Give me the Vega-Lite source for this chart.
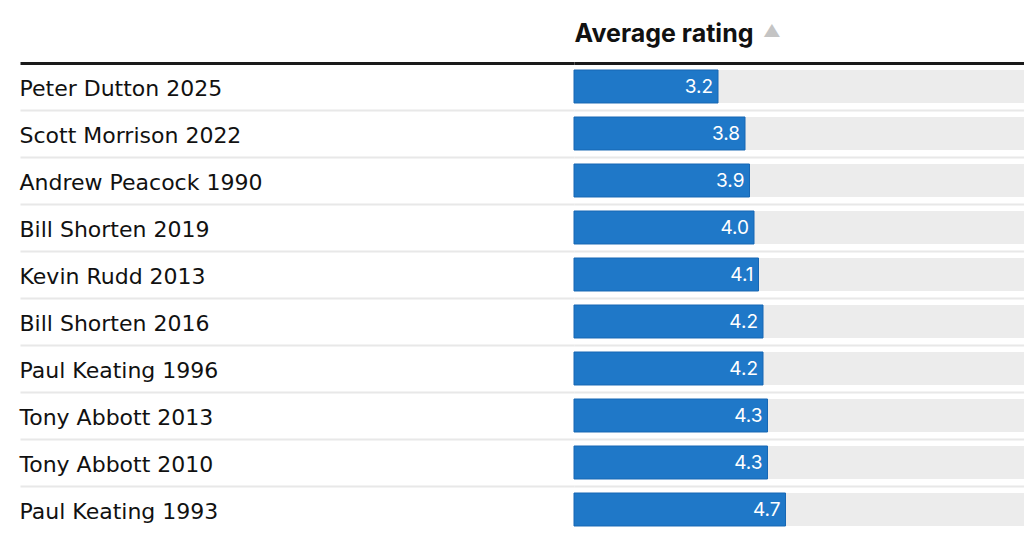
{
  "$schema": "https://vega.github.io/schema/vega-lite/v6.json",
  "width": 450,
  "height": 470,
  "autosize": {"type": "none"},
  "padding": {"left": 574, "top": 63, "right": 0, "bottom": 6},
  "background": "#ffffff",
  "view": {"stroke": null},
  "title": {
    "text": "▲",
    "anchor": "start",
    "frame": "group",
    "color": "#c4c4c4",
    "fontSize": 17,
    "font": "Inter",
    "dx": 189,
    "dy": 24
  },
  "data": {
    "values": [
      {"leader": "Peter Dutton 2025", "rating": 3.2},
      {"leader": "Scott Morrison 2022", "rating": 3.8},
      {"leader": "Andrew Peacock 1990", "rating": 3.9},
      {"leader": "Bill Shorten 2019", "rating": 4.0},
      {"leader": "Kevin Rudd 2013", "rating": 4.1},
      {"leader": "Bill Shorten 2016", "rating": 4.2},
      {"leader": "Paul Keating 1996", "rating": 4.2},
      {"leader": "Tony Abbott 2013", "rating": 4.3},
      {"leader": "Tony Abbott 2010", "rating": 4.3},
      {"leader": "Paul Keating 1993", "rating": 4.7}
    ]
  },
  "encoding": {
    "y": {
      "field": "leader",
      "type": "nominal",
      "sort": null,
      "scale": {"paddingInner": 0.298, "paddingOuter": 0.149},
      "axis": {
        "title": null,
        "orient": "left",
        "domain": false,
        "bandPosition": 1.4242,
        "tickExtra": true,
        "tickOffset": -7,
        "labelOffset": 8.5,
        "ticks": true,
        "tickSize": 554,
        "tickColor": {"condition": {"test": "datum.extra", "value": "#1a1a1a"}, "value": "#e8e8e8"},
        "tickWidth": {"condition": {"test": "datum.extra", "value": 3}, "value": 2},
        "tickOpacity": {"condition": {"test": "datum.value === 'Paul Keating 1993' && !datum.extra", "value": 0}, "value": 1},
        "grid": true,
        "gridColor": {"condition": {"test": "datum.extra", "value": "#1a1a1a"}, "value": "#e8e8e8"},
        "gridWidth": {"condition": {"test": "datum.extra", "value": 3}, "value": 2},
        "gridOpacity": {"condition": {"test": "datum.value === 'Paul Keating 1993' && !datum.extra", "value": 0}, "value": 1},
        "labelAlign": "left",
        "labelBaseline": "middle",
        "labelPadding": 1,
        "labelFont": "DejaVu Sans",
        "labelFontSize": 22,
        "labelColor": "#111111",
        "labelLimit": 520
      }
    }
  },
  "layer": [
    {
      "mark": {"type": "bar", "color": "#ececec", "cornerRadius": 0},
      "encoding": {
        "x": {
          "datum": 10,
          "type": "quantitative",
          "scale": {"domain": [0, 10], "nice": false, "zero": true},
          "axis": {
            "orient": "top",
            "title": "Average rating",
            "titleAnchor": "start",
            "titleAlign": "left",
            "titleBaseline": "alphabetic",
            "titleFont": "Inter",
            "titleFontSize": 25,
            "titleFontWeight": 700,
            "titleColor": "#111111",
            "titlePadding": 22,
            "labels": false,
            "ticks": false,
            "domain": false,
            "grid": false
          }
        }
      }
    },
    {
      "mark": {"type": "bar", "color": "#1f78c8", "stroke": "#1767b4", "strokeWidth": 1},
      "encoding": {
        "x": {"field": "rating", "type": "quantitative"}
      }
    },
    {
      "mark": {"type": "text", "align": "right", "baseline": "middle", "dx": -5, "color": "#ffffff", "font": "Inter", "fontSize": 19},
      "encoding": {
        "x": {"field": "rating", "type": "quantitative"},
        "text": {"field": "rating", "type": "quantitative", "format": ".1f"}
      }
    }
  ]
}
